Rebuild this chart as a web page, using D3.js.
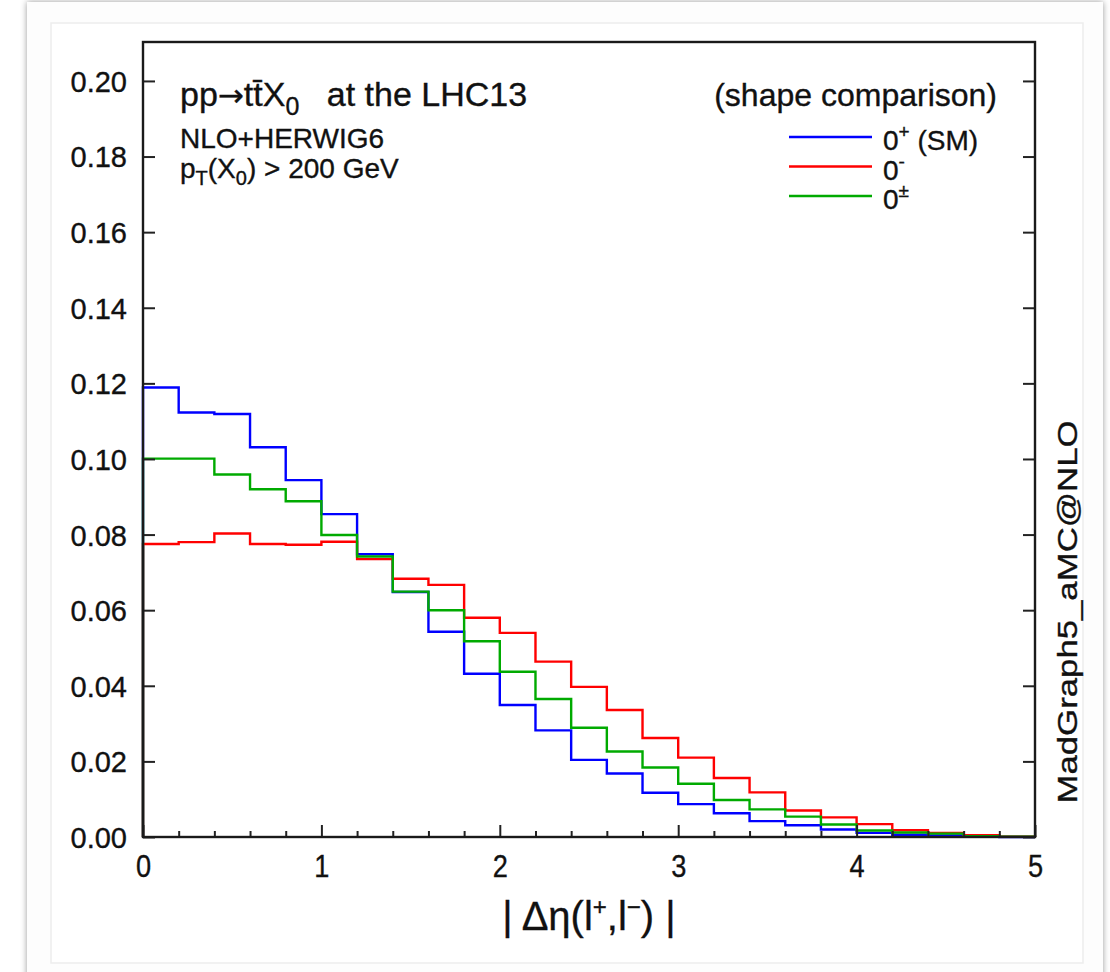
<!DOCTYPE html>
<html>
<head>
<meta charset="utf-8">
<script src="https://cdn.jsdelivr.net/npm/d3@7"></script>
<style>
  body { margin: 0; background: #fff; }
  svg text { font-family: "Liberation Sans", Arial, Helvetica, sans-serif; fill: #111; stroke: #111; stroke-width: 0.35px; }
</style>
</head>
<body>
<div id="chart"></div>
<script>
var svgWidth = 1110;
var svgHeight = 972;

var margin = { top: 42, right: 75, bottom: 135, left: 143 };
var width = 1035 - margin.left;
var height = 837 - margin.top;

// bin edges (width 0.2) and normalised shapes
var binEdges = d3.range(0, 5, 0.2);
var xMax = 5;

var smValues = [0.1189, 0.1123, 0.1119, 0.1031, 0.0944, 0.0854, 0.0748, 0.0648, 0.0543, 0.0432,
  0.0349, 0.0282, 0.0204, 0.0168, 0.0117, 0.0087, 0.0063, 0.0042, 0.0031, 0.0020,
  0.0011, 0.0006, 0.0004, 0.0001, 0.0000];
var minusValues = [0.0775, 0.0780, 0.0803, 0.0775, 0.0773, 0.0781, 0.0735, 0.0683, 0.0667, 0.0580,
  0.0540, 0.0464, 0.0397, 0.0336, 0.0262, 0.0210, 0.0156, 0.0118, 0.0070, 0.0052,
  0.0034, 0.0018, 0.0011, 0.0005, 0.0001];
var mixValues = [0.1001, 0.1001, 0.0959, 0.0920, 0.0888, 0.0799, 0.0742, 0.0649, 0.0600, 0.0518,
  0.0437, 0.0365, 0.0289, 0.0226, 0.0184, 0.0141, 0.0098, 0.0073, 0.0054, 0.0033,
  0.0017, 0.0012, 0.0009, 0.0002, 0.0001];

var yTicks = [0, 0.02, 0.04, 0.06, 0.08, 0.10, 0.12, 0.14, 0.16, 0.18, 0.20];
var xTicks = [0, 1, 2, 3, 4, 5];

var series = [
  { name: "0", sup: "+", extra: " (SM)", values: smValues, color: "#0000ff" },
  { name: "0", sup: "-", extra: "", values: minusValues, color: "#ff0000" },
  { name: "0", sup: "\u00b1", extra: "", values: mixValues, color: "#00aa00" }
];

var svg = d3.select("#chart")
  .append("svg")
  .attr("width", svgWidth)
  .attr("height", svgHeight);

// page card + shadow
var defs = svg.append("defs");
var shadow = defs.append("filter").attr("id", "shadow")
  .attr("x", "-5%").attr("y", "-5%").attr("width", "110%").attr("height", "110%");
shadow.append("feDropShadow")
  .attr("dx", 0).attr("dy", 0)
  .attr("stdDeviation", 3)
  .attr("flood-color", "#000")
  .attr("flood-opacity", 0.4);

svg.append("rect")
  .attr("x", 27).attr("y", 2)
  .attr("width", 1076).attr("height", 1010)
  .attr("fill", "#fdfdfd")
  .attr("filter", "url(#shadow)");

svg.append("rect")
  .attr("x", 51).attr("y", 23)
  .attr("width", 1032).attr("height", 940)
  .attr("fill", "#fff")
  .attr("stroke", "#ededed")
  .attr("stroke-width", 1.5);

var chart = svg.append("g")
  .attr("transform", `translate(${margin.left}, ${margin.top})`);

var xScale = d3.scaleLinear()
  .domain([0, xMax])
  .range([0, width]);

var yScale = d3.scaleLinear()
  .domain([0, 0.2103])
  .range([height, 0]);

// step histograms
var stepLine = d3.line()
  .x(d => xScale(d[0]))
  .y(d => yScale(d[1]))
  .curve(d3.curveStepAfter);

series.forEach(function (s) {
  var pts = [[0, 0]];
  binEdges.forEach(function (e, i) { pts.push([e, s.values[i]]); });
  pts.push([xMax, s.values[s.values.length - 1]]);
  pts.push([xMax, 0]);
  chart.append("path")
    .datum(pts)
    .attr("d", stepLine)
    .attr("fill", "none")
    .attr("stroke", s.color)
    .attr("stroke-width", 2.4);
});

// axes (ticks pointing inward)
var bottomAxis = d3.axisBottom(xScale)
  .tickValues(binEdges.concat([xMax]))
  .tickSize(0)
  .tickFormat("");
var gx = chart.append("g")
  .attr("transform", `translate(0, ${height})`)
  .call(bottomAxis);
gx.select(".domain").remove();
gx.selectAll(".tick line")
  .attr("y2", (d) => Math.abs(d - Math.round(d)) < 1e-6 ? -12 : -6)
  .attr("stroke", "#222")
  .attr("stroke-width", 2);
gx.selectAll(".tick").append("text")
  .attr("y", 40)
  .attr("text-anchor", "middle")
  .style("font-size", "32px")
  .attr("transform", "scale(0.85,1)")
  .text(d => xTicks.indexOf(Math.round(d * 10) / 10) >= 0 ? d3.format("d")(Math.round(d)) : "");

var leftAxis = d3.axisLeft(yScale)
  .tickValues(yTicks)
  .tickSize(-12)
  .tickPadding(16)
  .tickFormat(d3.format(".2f"));
var gy = chart.append("g").call(leftAxis);
gy.select(".domain").remove();
gy.selectAll(".tick line").attr("stroke", "#222").attr("stroke-width", 2);
gy.selectAll(".tick text")
  .attr("fill", "#111")
  .attr("dy", "0.36em")
  .style("font-size", "29px")
  .style("font-family", "Liberation Sans, Arial, sans-serif");

var rightAxis = d3.axisRight(yScale)
  .tickValues(yTicks)
  .tickSize(-12)
  .tickFormat("");
var gr = chart.append("g")
  .attr("transform", `translate(${width}, 0)`)
  .call(rightAxis);
gr.select(".domain").remove();
gr.selectAll(".tick line").attr("stroke", "#222").attr("stroke-width", 2);

// frame
chart.append("rect")
  .attr("width", width)
  .attr("height", height)
  .attr("fill", "none")
  .attr("stroke", "#1a1a1a")
  .attr("stroke-width", 2.4);

// process labels
var title = svg.append("text")
  .attr("x", 180).attr("y", 106)
  .style("font-size", "34px");
title.append("tspan").text("pp");
title.append("tspan").style("font-family", "DejaVu Sans").style("font-size", "31px").text("\u2192");
title.append("tspan").text("tt\u0304X");
title.append("tspan").attr("dy", 9).style("font-size", "25px").text("0");
title.append("tspan").attr("dy", -9).attr("dx", 18).text("  at the LHC13");

svg.append("text")
  .attr("x", 180).attr("y", 148)
  .style("font-size", "28px")
  .text("NLO+HERWIG6");

var cut = svg.append("text")
  .attr("x", 180).attr("y", 178)
  .style("font-size", "28px");
cut.append("tspan").text("p");
cut.append("tspan").attr("dy", 7).style("font-size", "20px").text("T");
cut.append("tspan").attr("dy", -7).text("(X");
cut.append("tspan").attr("dy", 7).style("font-size", "20px").text("0");
cut.append("tspan").attr("dy", -7).text(") > 200 GeV");

// legend
svg.append("text")
  .attr("x", 997).attr("y", 106)
  .attr("text-anchor", "end")
  .style("font-size", "32px")
  .text("(shape comparison)");

var legend = svg.append("g").attr("transform", "translate(789, 137)");
var legendRows = legend.selectAll("g")
  .data(series)
  .enter()
  .append("g")
  .attr("transform", (d, i) => `translate(0, ${i * 29.5})`);
legendRows.append("line")
  .attr("x1", 0).attr("x2", 83)
  .attr("stroke", d => d.color)
  .attr("stroke-width", 2.4);
var legendText = legendRows.append("text")
  .attr("x", 94).attr("y", 13)
  .style("font-size", "28px");
legendText.append("tspan").text(d => d.name);
legendText.append("tspan")
  .attr("dy", -12)
  .style("font-size", "19px")
  .text(d => d.sup);
legendText.append("tspan")
  .attr("dy", 12)
  .text(d => d.extra);

// generator tag
svg.append("text")
  .attr("transform", "translate(1077, 612) rotate(-90)")
  .attr("text-anchor", "middle")
  .style("font-size", "27px")
  .attr("textLength", 383)
  .attr("lengthAdjust", "spacingAndGlyphs")
  .text("MadGraph5_aMC@NLO");

// x axis title
var xTitle = svg.append("text")
  .attr("x", 589).attr("y", 930)
  .attr("text-anchor", "middle")
  .style("font-size", "40px");
xTitle.append("tspan").text("| \u0394\u03b7(l");
xTitle.append("tspan").attr("dy", -15).style("font-size", "24px").text("+");
xTitle.append("tspan").attr("dy", 15).text(",l");
xTitle.append("tspan").attr("dy", -15).style("font-size", "24px").text("\u2212");
xTitle.append("tspan").attr("dy", 15).text(")   |");
</script>
</body>
</html>
